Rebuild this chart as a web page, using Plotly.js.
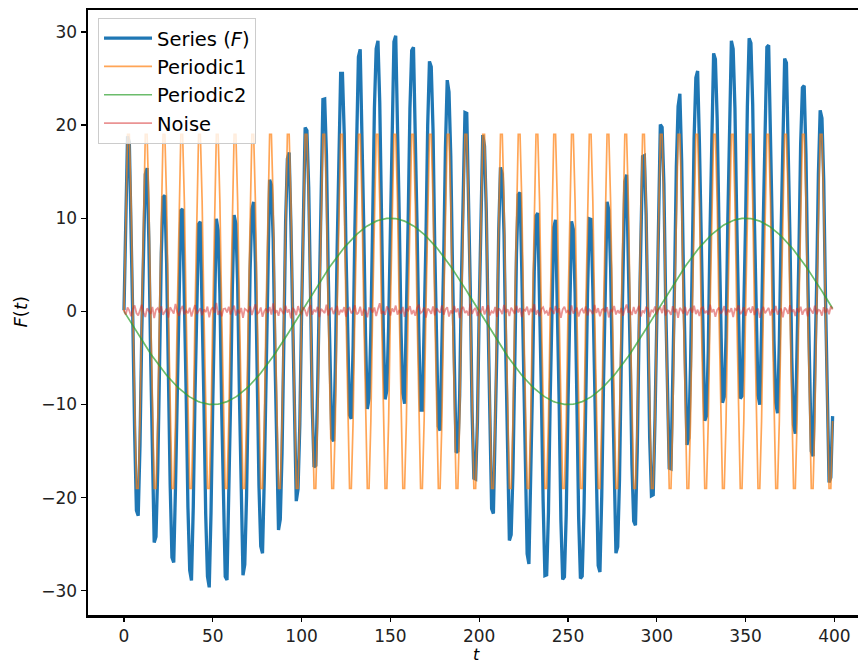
<!DOCTYPE html>
<html>
<head>
<meta charset="utf-8">
<script src="https://cdn.plot.ly/plotly-3.0.1.min.js"></script>
<style>html,body{margin:0;padding:0;background:#fff;}#chart{width:858px;height:665px;}</style>
</head>
<body>
<div id="chart"></div>
<script>
// Periodic1 (t = 0..399)
const periodic1 = [
0,11.76,19.02,19.02,11.76,0,-11.76,-19.02,-19.02,-11.76,
0,11.76,19.02,19.02,11.76,0,-11.76,-19.02,-19.02,-11.76,
0,11.76,19.02,19.02,11.76,0,-11.76,-19.02,-19.02,-11.76,
0,11.76,19.02,19.02,11.76,0,-11.76,-19.02,-19.02,-11.76,
0,11.76,19.02,19.02,11.76,0,-11.76,-19.02,-19.02,-11.76,
0,11.76,19.02,19.02,11.76,0,-11.76,-19.02,-19.02,-11.76,
0,11.76,19.02,19.02,11.76,0,-11.76,-19.02,-19.02,-11.76,
0,11.76,19.02,19.02,11.76,0,-11.76,-19.02,-19.02,-11.76,
0,11.76,19.02,19.02,11.76,0,-11.76,-19.02,-19.02,-11.76,
0,11.76,19.02,19.02,11.76,0,-11.76,-19.02,-19.02,-11.76,
0,11.76,19.02,19.02,11.76,0,-11.76,-19.02,-19.02,-11.76,
0,11.76,19.02,19.02,11.76,0,-11.76,-19.02,-19.02,-11.76,
0,11.76,19.02,19.02,11.76,0,-11.76,-19.02,-19.02,-11.76,
0,11.76,19.02,19.02,11.76,0,-11.76,-19.02,-19.02,-11.76,
0,11.76,19.02,19.02,11.76,0,-11.76,-19.02,-19.02,-11.76,
0,11.76,19.02,19.02,11.76,0,-11.76,-19.02,-19.02,-11.76,
0,11.76,19.02,19.02,11.76,0,-11.76,-19.02,-19.02,-11.76,
0,11.76,19.02,19.02,11.76,0,-11.76,-19.02,-19.02,-11.76,
0,11.76,19.02,19.02,11.76,0,-11.76,-19.02,-19.02,-11.76,
0,11.76,19.02,19.02,11.76,0,-11.76,-19.02,-19.02,-11.76,
0,11.76,19.02,19.02,11.76,0,-11.76,-19.02,-19.02,-11.76,
0,11.76,19.02,19.02,11.76,0,-11.76,-19.02,-19.02,-11.76,
0,11.76,19.02,19.02,11.76,0,-11.76,-19.02,-19.02,-11.76,
0,11.76,19.02,19.02,11.76,0,-11.76,-19.02,-19.02,-11.76,
0,11.76,19.02,19.02,11.76,0,-11.76,-19.02,-19.02,-11.76,
0,11.76,19.02,19.02,11.76,0,-11.76,-19.02,-19.02,-11.76,
0,11.76,19.02,19.02,11.76,0,-11.76,-19.02,-19.02,-11.76,
0,11.76,19.02,19.02,11.76,0,-11.76,-19.02,-19.02,-11.76,
0,11.76,19.02,19.02,11.76,0,-11.76,-19.02,-19.02,-11.76,
0,11.76,19.02,19.02,11.76,0,-11.76,-19.02,-19.02,-11.76,
0,11.76,19.02,19.02,11.76,0,-11.76,-19.02,-19.02,-11.76,
0,11.76,19.02,19.02,11.76,0,-11.76,-19.02,-19.02,-11.76,
0,11.76,19.02,19.02,11.76,0,-11.76,-19.02,-19.02,-11.76,
0,11.76,19.02,19.02,11.76,0,-11.76,-19.02,-19.02,-11.76,
0,11.76,19.02,19.02,11.76,0,-11.76,-19.02,-19.02,-11.76,
0,11.76,19.02,19.02,11.76,0,-11.76,-19.02,-19.02,-11.76,
0,11.76,19.02,19.02,11.76,0,-11.76,-19.02,-19.02,-11.76,
0,11.76,19.02,19.02,11.76,0,-11.76,-19.02,-19.02,-11.76,
0,11.76,19.02,19.02,11.76,0,-11.76,-19.02,-19.02,-11.76,
0,11.76,19.02,19.02,11.76,0,-11.76,-19.02,-19.02,-11.76
];

// Periodic2 (t = 0..399)
const periodic2 = [
0,-0.31,-0.63,-0.94,-1.25,-1.56,-1.87,-2.18,-2.49,-2.79,
-3.09,-3.39,-3.68,-3.97,-4.26,-4.54,-4.82,-5.09,-5.36,-5.62,
-5.88,-6.13,-6.37,-6.61,-6.85,-7.07,-7.29,-7.5,-7.71,-7.9,
-8.09,-8.27,-8.44,-8.61,-8.76,-8.91,-9.05,-9.18,-9.3,-9.41,
-9.51,-9.6,-9.69,-9.76,-9.82,-9.88,-9.92,-9.96,-9.98,-9.99,
-10,-9.99,-9.98,-9.96,-9.92,-9.88,-9.82,-9.76,-9.69,-9.6,
-9.51,-9.41,-9.3,-9.18,-9.05,-8.91,-8.76,-8.61,-8.44,-8.27,
-8.09,-7.9,-7.71,-7.5,-7.29,-7.07,-6.85,-6.61,-6.37,-6.13,
-5.88,-5.62,-5.36,-5.09,-4.82,-4.54,-4.26,-3.97,-3.68,-3.39,
-3.09,-2.79,-2.49,-2.18,-1.87,-1.56,-1.25,-0.94,-0.63,-0.31,
0,0.31,0.63,0.94,1.25,1.56,1.87,2.18,2.49,2.79,
3.09,3.39,3.68,3.97,4.26,4.54,4.82,5.09,5.36,5.62,
5.88,6.13,6.37,6.61,6.85,7.07,7.29,7.5,7.71,7.9,
8.09,8.27,8.44,8.61,8.76,8.91,9.05,9.18,9.3,9.41,
9.51,9.6,9.69,9.76,9.82,9.88,9.92,9.96,9.98,9.99,
10,9.99,9.98,9.96,9.92,9.88,9.82,9.76,9.69,9.6,
9.51,9.41,9.3,9.18,9.05,8.91,8.76,8.61,8.44,8.27,
8.09,7.9,7.71,7.5,7.29,7.07,6.85,6.61,6.37,6.13,
5.88,5.62,5.36,5.09,4.82,4.54,4.26,3.97,3.68,3.39,
3.09,2.79,2.49,2.18,1.87,1.56,1.25,0.94,0.63,0.31,
0,-0.31,-0.63,-0.94,-1.25,-1.56,-1.87,-2.18,-2.49,-2.79,
-3.09,-3.39,-3.68,-3.97,-4.26,-4.54,-4.82,-5.09,-5.36,-5.62,
-5.88,-6.13,-6.37,-6.61,-6.85,-7.07,-7.29,-7.5,-7.71,-7.9,
-8.09,-8.27,-8.44,-8.61,-8.76,-8.91,-9.05,-9.18,-9.3,-9.41,
-9.51,-9.6,-9.69,-9.76,-9.82,-9.88,-9.92,-9.96,-9.98,-9.99,
-10,-9.99,-9.98,-9.96,-9.92,-9.88,-9.82,-9.76,-9.69,-9.6,
-9.51,-9.41,-9.3,-9.18,-9.05,-8.91,-8.76,-8.61,-8.44,-8.27,
-8.09,-7.9,-7.71,-7.5,-7.29,-7.07,-6.85,-6.61,-6.37,-6.13,
-5.88,-5.62,-5.36,-5.09,-4.82,-4.54,-4.26,-3.97,-3.68,-3.39,
-3.09,-2.79,-2.49,-2.18,-1.87,-1.56,-1.25,-0.94,-0.63,-0.31,
0,0.31,0.63,0.94,1.25,1.56,1.87,2.18,2.49,2.79,
3.09,3.39,3.68,3.97,4.26,4.54,4.82,5.09,5.36,5.62,
5.88,6.13,6.37,6.61,6.85,7.07,7.29,7.5,7.71,7.9,
8.09,8.27,8.44,8.61,8.76,8.91,9.05,9.18,9.3,9.41,
9.51,9.6,9.69,9.76,9.82,9.88,9.92,9.96,9.98,9.99,
10,9.99,9.98,9.96,9.92,9.88,9.82,9.76,9.69,9.6,
9.51,9.41,9.3,9.18,9.05,8.91,8.76,8.61,8.44,8.27,
8.09,7.9,7.71,7.5,7.29,7.07,6.85,6.61,6.37,6.13,
5.88,5.62,5.36,5.09,4.82,4.54,4.26,3.97,3.68,3.39,
3.09,2.79,2.49,2.18,1.87,1.56,1.25,0.94,0.63,0.31
];

// Noise (t = 0..399)
const noise = [
0.12,-0.35,0.41,0.08,-0.52,0.27,0.63,-0.18,-0.44,0.15,0.72,-0.09,-0.61,0.33,0.05,-0.27,0.48,-0.71,0.19,0.36,
-0.14,0.55,-0.38,0.02,0.29,-0.66,0.44,0.11,-0.23,0.81,-0.05,-0.47,0.24,0.58,-0.31,0.07,-0.19,0.39,-0.56,0.13,
0.67,-0.28,0.04,0.35,-0.42,0.21,-0.08,0.52,-0.63,0.17,0.43,-0.16,0.91,-0.37,0.09,-0.54,0.26,0.31,-0.12,0.49,
-0.33,0.06,0.62,-0.45,0.18,-0.22,0.37,-0.69,0.28,0.14,-0.07,0.54,-0.39,0.23,0.76,-0.26,-0.11,0.42,-0.58,0.03,
0.31,-0.17,0.47,-0.34,0.85,-0.21,0.12,-0.48,0.36,0.01,-0.29,0.61,-0.13,0.22,-0.74,0.38,0.16,-0.41,0.57,-0.06,
-0.25,0.44,0.09,-0.53,0.32,0.68,-0.36,0.14,-0.02,0.49,-0.62,0.27,0.05,-0.18,0.73,-0.43,0.21,0.34,-0.29,0.11,
0.58,-0.39,0.16,-0.08,0.46,-0.57,0.24,0.39,-0.21,0.03,0.65,-0.32,-0.15,0.51,-0.46,0.19,0.07,-0.64,0.35,0.28,
-0.12,0.42,-0.51,0.26,0.88,-0.27,0.04,-0.38,0.53,0.18,-0.44,0.31,-0.06,0.62,-0.35,0.13,-0.23,0.47,-0.59,0.22,
0.09,0.56,-0.31,0.15,-0.48,0.37,0.71,-0.19,-0.02,0.43,-0.67,0.28,0.11,-0.26,0.52,-0.41,0.34,0.06,-0.14,0.64,
-0.37,0.2,0.45,-0.55,0.1,-0.24,0.59,-0.09,0.33,-0.72,0.25,0.48,-0.16,0.07,-0.45,0.81,-0.28,0.17,0.38,-0.5,
0.14,-0.06,0.55,-0.33,0.27,0.66,-0.42,0.02,-0.2,0.47,-0.58,0.32,0.12,-0.3,0.7,-0.13,0.23,-0.49,0.4,0.05,
-0.26,0.61,-0.11,0.36,-0.62,0.19,0.08,0.5,-0.4,0.29,-0.07,0.77,-0.34,0.15,-0.53,0.24,0.44,-0.17,0.03,-0.46,
0.39,0.13,-0.28,0.57,-0.15,0.34,-0.69,0.21,0.49,-0.1,0.06,-0.36,0.63,-0.24,0.18,0.41,-0.56,0.1,0.27,-0.2,
0.52,-0.43,0.22,0.04,-0.3,0.69,-0.18,0.35,-0.52,0.16,0.28,-0.08,0.46,-0.65,0.2,0.01,0.58,-0.33,0.12,-0.22,
0.37,-0.47,0.25,0.74,-0.14,0.06,-0.39,0.48,-0.27,0.19,0.6,-0.55,0.09,-0.12,0.43,0.3,-0.6,0.17,-0.04,0.53,
-0.32,0.2,0.41,-0.19,0.67,-0.45,0.11,0.02,-0.37,0.55,-0.09,0.26,-0.68,0.38,0.14,-0.23,0.49,-0.41,0.07,0.31,
-0.15,0.62,-0.29,0.18,-0.5,0.33,0.45,-0.21,0.08,-0.34,0.71,-0.1,0.24,-0.57,0.16,0.4,-0.25,0.03,0.56,-0.43,
0.21,-0.08,0.35,-0.61,0.27,0.13,0.64,-0.3,-0.05,0.46,-0.48,0.19,0.32,-0.16,0.54,-0.39,0.1,0.28,-0.7,0.15,
0.47,-0.2,0.06,0.38,-0.44,0.23,-0.12,0.59,-0.35,0.09,0.3,-0.63,0.42,0.17,-0.27,0.66,-0.07,0.21,-0.49,0.34,
-0.1,0.5,-0.36,0.12,0.25,-0.54,0.39,0.04,-0.22,0.61,-0.31,0.18,0.07,-0.45,0.44,-0.17,0.29,-0.3,0.55,0.2
];

// Axis titles
const xTitle = '<i>t</i>';
const yTitle = '<i>F</i>(<i>t</i>)';

// Series F is the sum of its three components
const seriesF = periodic1.map((v, i) => v + periodic2[i] + noise[i]);

const FONT = 'DejaVu Sans, sans-serif';

const traces = [
  {y: seriesF, type: 'scatter', mode: 'lines', name: 'Series (<i>F</i>)',
   line: {color: '#1f77b4', width: 3.3}},
  {y: periodic1, type: 'scatter', mode: 'lines', name: 'Periodic1',
   line: {color: 'rgba(255,127,14,0.7)', width: 1.7}},
  {y: periodic2, type: 'scatter', mode: 'lines', name: 'Periodic2',
   line: {color: 'rgba(44,160,44,0.7)', width: 1.7}},
  {y: noise, type: 'scatter', mode: 'lines', name: 'Noise',
   line: {color: 'rgba(214,39,40,0.5)', width: 1.8}}
];

const layout = {
  width: 858, height: 665,
  margin: {l: 88, r: 0, t: 10, b: 50, pad: 0},
  paper_bgcolor: '#fff', plot_bgcolor: '#fff',
  font: {family: FONT, size: 17, color: '#000'},
  showlegend: true,
  legend: {
    x: 0.013, y: 0.987, xanchor: 'left', yanchor: 'top',
    bgcolor: 'rgba(255,255,255,0.8)', bordercolor: '#cccccc', borderwidth: 1,
    font: {family: FONT, size: 19.5, color: '#000'},
    itemwidth: 48,
    tracegroupgap: 0
  },
  xaxis: {
    range: [-20.27, 413.3], dtick: 50, tick0: 0,
    showgrid: false, zeroline: false,
    showline: true, linecolor: '#000', linewidth: 2.5, mirror: true,
    ticks: 'outside', ticklen: 4, tickwidth: 1.3, tickcolor: '#000',
    tickfont: {family: FONT, size: 17, color: '#222'}
  },
  yaxis: {
    range: [-32.6, 32.36], dtick: 10, tick0: 0,
    showgrid: false, zeroline: false,
    showline: true, linecolor: '#000', linewidth: 2.5, mirror: false,
    ticks: 'outside', ticklen: 5, tickwidth: 1.3, tickcolor: '#000',
    tickfont: {family: FONT, size: 17, color: '#222'}
  },
  annotations: [
    {text: xTitle, xref: 'paper', yref: 'paper', x: 0.504, y: -0.0661,
     xanchor: 'center', yanchor: 'middle', showarrow: false,
     font: {family: FONT, size: 16, color: '#000'}},
    {text: yTitle, xref: 'paper', yref: 'paper', x: -0.0883, y: 0.5,
     xanchor: 'center', yanchor: 'middle', showarrow: false, textangle: -90,
     font: {family: FONT, size: 18, color: '#000'}}
  ]
};

Plotly.newPlot('chart', traces, layout, {displayModeBar: false, staticPlot: true});
</script>
</body>
</html>
